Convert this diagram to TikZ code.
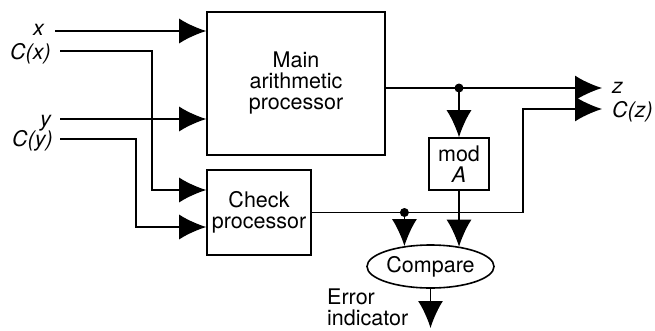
\documentclass[tikz,border=0pt]{standalone}
\usepackage{fontspec}
\setmainfont{TeX Gyre Heros}
\usetikzlibrary{positioning,arrows.meta,shapes.geometric}
\tikzset{
  flowarrow/.style={-{Latex[length=27pt, width=25pt]}, line width=1.6pt},
  procbox/.style={draw, line width=1.6pt, align=center, inner sep=0pt},
  cmpbox/.style={draw, ellipse, line width=1.6pt, inner sep=0pt, minimum width=127pt, minimum height=43pt},
  sig/.style={inner sep=0pt, font=\fontsize{21.5}{21}\selectfont\itshape},
  joint/.style={circle, fill, inner sep=0pt, minimum size=9pt}
}

\begin{document}
\begin{tikzpicture}[x=1pt, y=-1pt, every node/.style={font=\fontsize{21.5}{21}\selectfont}]
      \useasboundingbox (0,0) rectangle (655,330);
      % blocks
      \node[procbox, minimum width=178pt, minimum height=143pt] (main) at (296,83.5) {Main\\arithmetic\\processor};
      \node[procbox, minimum width=104pt, minimum height=85pt] (check) at (259,212.5) {Check\\processor};
      \node[procbox, minimum width=60pt, minimum height=52pt] (mod) at (459,164) {mod\\\textit{A}};
      \node[cmpbox] (cmp) at (430.5,266.5) {Compare};
      % signal names
      \node[sig, anchor=base east] (xl) at (44,35) {x};
      \node[sig, anchor=base east] (cxl) at (51,59) {C(x)};
      \node[sig, anchor=base east] (yl) at (51,126) {y};
      \node[sig, anchor=base east] (cyl) at (53,146) {C(y)};
      \node[sig, anchor=base west] (zl) at (612,93) {z};
      \node[sig, anchor=base west] (czl) at (612,117) {C(z)};
      \node[anchor=west, align=left, inner sep=0pt] (errl) at (327,307) {Error\\indicator};
      % line ends
      \coordinate (xs) at (55,31);
      \coordinate (cxs) at (60,51);
      \coordinate (ys) at (60,119);
      \coordinate (cys) at (60,139);
      \coordinate (zend) at (602,88);
      \coordinate (czend) at (602,109);
      \coordinate (errend) at (430.5,328);
      % inputs
      \draw[flowarrow] (xs) -- (xs -| main.west);
      \draw[flowarrow] (ys) -- (ys -| main.west);
      \draw[flowarrow] (cxs) -- (cxs -| 152,0) |- ([yshift=22.5pt]check.west);
      \draw[flowarrow] (cys) -- (cys -| 136,0) |- ([yshift=-14.5pt]check.west);
      % outputs
      \draw[flowarrow] ([yshift=-4.5pt]main.east) -- (zend);
      \draw[flowarrow] (check.east) -- (check.east -| 523,0) |- (czend);
      \node[joint] (zdot) at (mod.north |- zend) {};
      \draw[flowarrow] (zdot.center) -- (mod.north);
      \node[joint] (cdot) at (cmp.142 |- check.east) {};
      \draw[flowarrow] (cdot.center) -- (cmp.142);
      \draw[flowarrow] (mod.south) -- (mod.south |- cmp.34);
      \draw[flowarrow] (cmp.south) -- (errend);
    \end{tikzpicture}
\end{document}
